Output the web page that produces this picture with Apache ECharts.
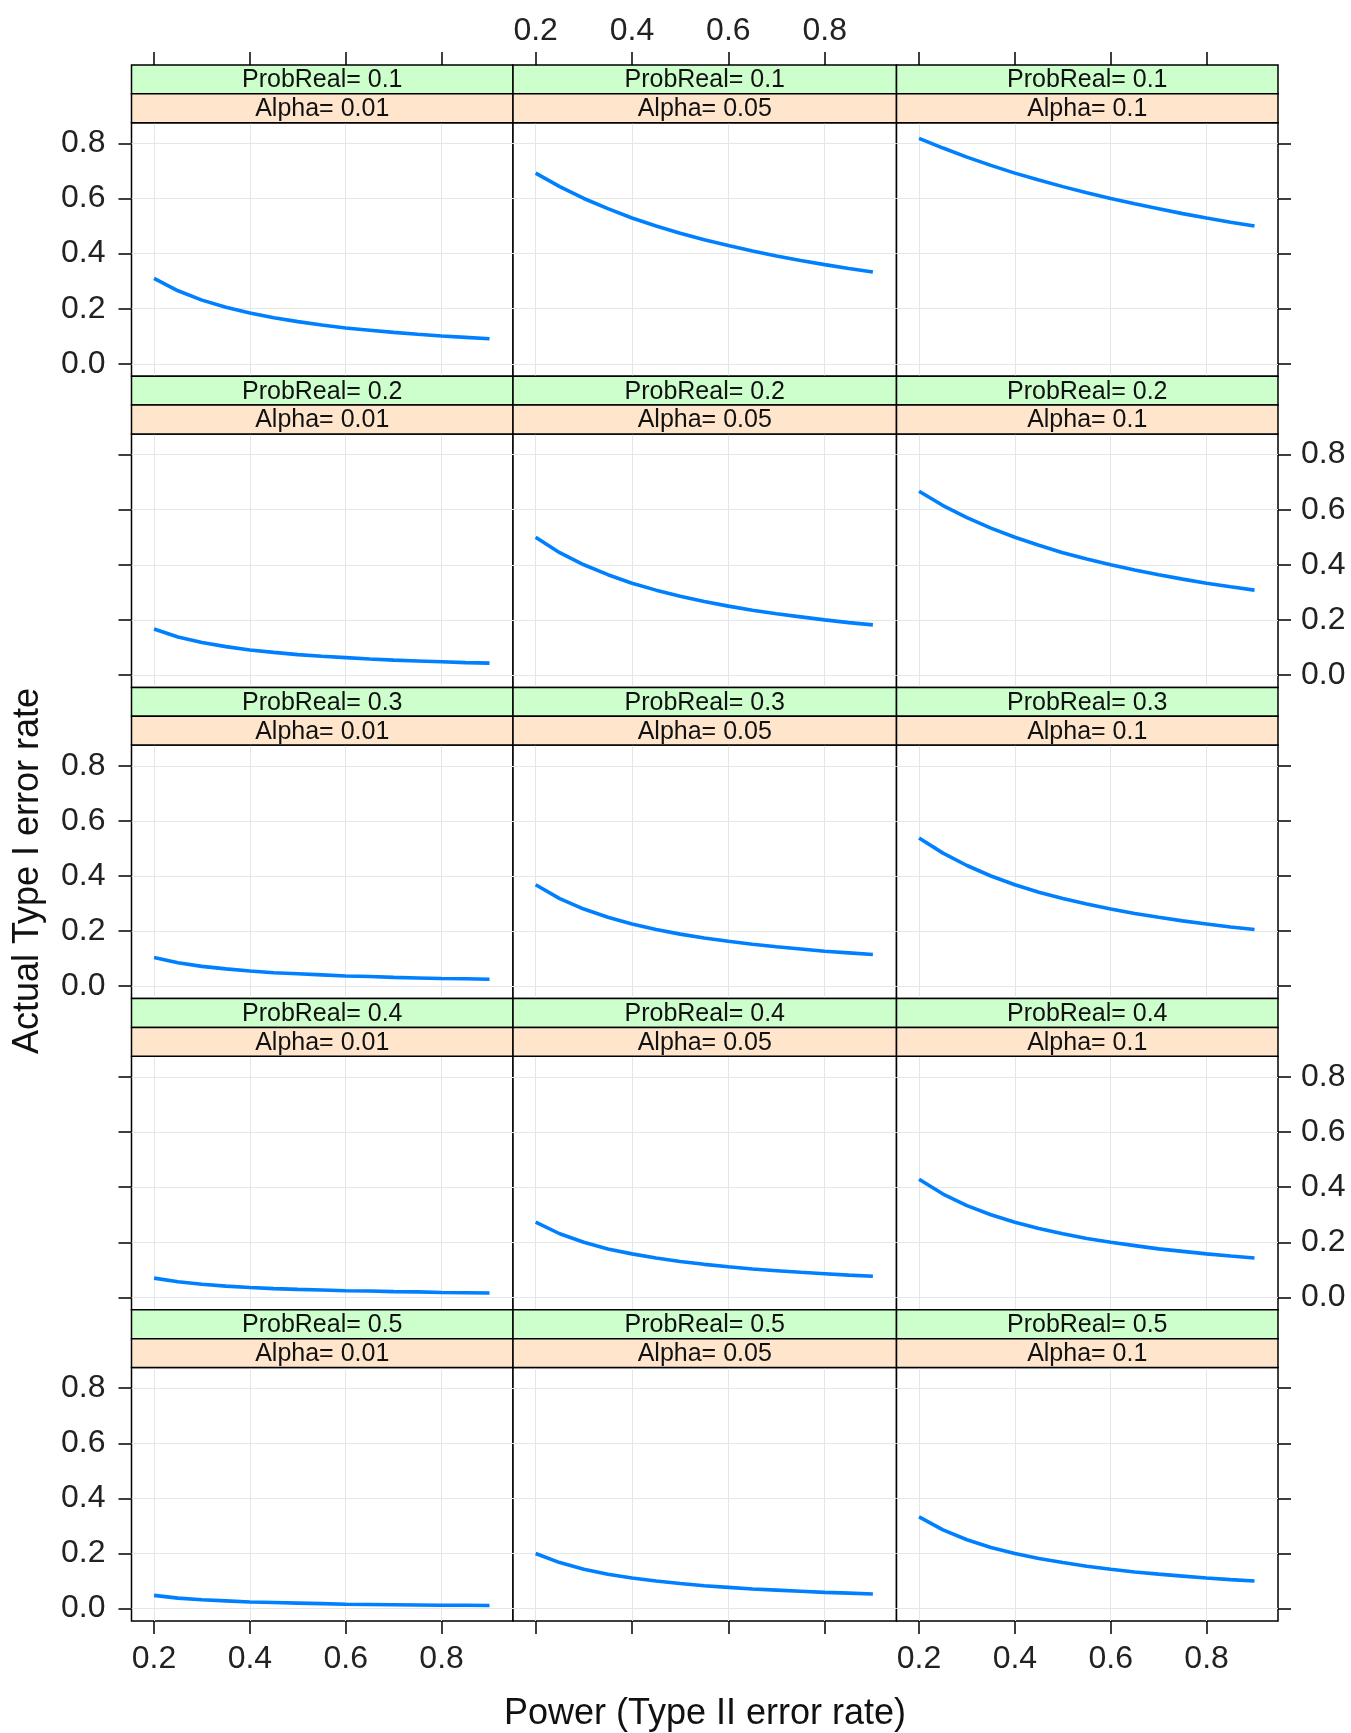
<!DOCTYPE html>
<html>
<head>
<meta charset="utf-8">
<script src="https://cdn.jsdelivr.net/npm/echarts@6/dist/echarts.min.js"></script>
<style>
  html, body { margin: 0; padding: 0; background: #fff; }
  #chart { width: 1351px; height: 1733px; }
</style>
</head>
<body>
<div id="chart"></div>
<script>
  // x values (power) shared by every panel
  var power = [0.2, 0.25, 0.3, 0.35, 0.4, 0.45, 0.5, 0.55, 0.6, 0.65, 0.7, 0.75, 0.8, 0.85, 0.9]
  var probReal = ['0.1', '0.2', '0.3', '0.4', '0.5']
  var alphas = ['0.01', '0.05', '0.1']

  // actual type I error rate, one array per panel (ProbReal x Alpha)
  var pr01_a001 = [0.310, 0.265, 0.231, 0.205, 0.184, 0.167, 0.153, 0.141, 0.130, 0.122, 0.114, 0.107, 0.101, 0.096, 0.091]
  var pr01_a005 = [0.692, 0.643, 0.600, 0.563, 0.529, 0.500, 0.474, 0.450, 0.429, 0.409, 0.391, 0.375, 0.360, 0.346, 0.333]
  var pr01_a01  = [0.818, 0.783, 0.750, 0.720, 0.692, 0.667, 0.643, 0.621, 0.600, 0.581, 0.563, 0.545, 0.529, 0.514, 0.500]
  var pr02_a001 = [0.167, 0.138, 0.118, 0.103, 0.091, 0.082, 0.074, 0.068, 0.063, 0.058, 0.054, 0.051, 0.048, 0.045, 0.043]
  var pr02_a005 = [0.500, 0.444, 0.400, 0.364, 0.333, 0.308, 0.286, 0.267, 0.250, 0.235, 0.222, 0.211, 0.200, 0.190, 0.182]
  var pr02_a01  = [0.667, 0.615, 0.571, 0.533, 0.500, 0.471, 0.444, 0.421, 0.400, 0.381, 0.364, 0.348, 0.333, 0.320, 0.308]
  var pr03_a001 = [0.104, 0.085, 0.072, 0.063, 0.055, 0.049, 0.045, 0.041, 0.037, 0.035, 0.032, 0.030, 0.028, 0.027, 0.025]
  var pr03_a005 = [0.368, 0.318, 0.280, 0.250, 0.226, 0.206, 0.189, 0.175, 0.163, 0.152, 0.143, 0.135, 0.127, 0.121, 0.115]
  var pr03_a01  = [0.538, 0.483, 0.438, 0.400, 0.368, 0.341, 0.318, 0.298, 0.280, 0.264, 0.250, 0.237, 0.226, 0.215, 0.206]
  var pr04_a001 = [0.070, 0.057, 0.048, 0.041, 0.036, 0.032, 0.029, 0.027, 0.024, 0.023, 0.021, 0.020, 0.018, 0.017, 0.016]
  var pr04_a005 = [0.273, 0.231, 0.200, 0.176, 0.158, 0.143, 0.130, 0.120, 0.111, 0.103, 0.097, 0.091, 0.086, 0.081, 0.077]
  var pr04_a01  = [0.429, 0.375, 0.333, 0.300, 0.273, 0.250, 0.231, 0.214, 0.200, 0.188, 0.176, 0.167, 0.158, 0.150, 0.143]
  var pr05_a001 = [0.048, 0.038, 0.032, 0.028, 0.024, 0.022, 0.020, 0.018, 0.016, 0.015, 0.014, 0.013, 0.012, 0.012, 0.011]
  var pr05_a005 = [0.200, 0.167, 0.143, 0.125, 0.111, 0.100, 0.091, 0.083, 0.077, 0.071, 0.067, 0.063, 0.059, 0.056, 0.053]
  var pr05_a01  = [0.333, 0.286, 0.250, 0.222, 0.200, 0.182, 0.167, 0.154, 0.143, 0.133, 0.125, 0.118, 0.111, 0.105, 0.100]

  var panels = [
    [pr01_a001, pr01_a005, pr01_a01],
    [pr02_a001, pr02_a005, pr02_a01],
    [pr03_a001, pr03_a005, pr03_a01],
    [pr04_a001, pr04_a005, pr04_a01],
    [pr05_a001, pr05_a005, pr05_a01]
  ]

  var xTicks = [0.2, 0.4, 0.6, 0.8]
  var yTicks = [0, 0.2, 0.4, 0.6, 0.8]

  // layout
  var colX = [131.5, 513, 896.5, 1278]
  var rowTop0 = 65
  var rowStep = 311.2
  var stripH = 28.85
  var plotH = rowStep - 2 * stripH
  var xMin = 0.153, xMax = 0.949
  var yMin = -0.045, yMax = 0.875
  var font = 'Liberation Sans, Arial, sans-serif'
  var lineColor = '#0080ff'

  function fmt (v) { return v.toFixed(1) }

  function axisTickOpt (show, vals) {
    return { show: show, length: 13, customValues: vals.slice(), lineStyle: { color: '#000', width: 1.5 } }
  }
  function axisLabelOpt (show, vals, margin) {
    return { show: show, margin: margin, customValues: vals.slice(), showMinLabel: true, showMaxLabel: true,
      fontSize: 32, color: '#222', fontFamily: font, formatter: fmt }
  }

  function buildOption () {
    var grids = [], xAxes = [], yAxes = [], series = [], graphics = []
    var extraX = [], extraY = []
    for (var r = 0; r < 5; r++) {
      for (var c = 0; c < 3; c++) {
        var i = r * 3 + c
        var rowY = rowTop0 + r * rowStep
        var w = colX[c + 1] - colX[c]
        grids.push({
          left: colX[c], top: rowY + 2 * stripH, width: w, height: plotH,
          show: true, borderColor: '#000', borderWidth: 1.5, backgroundColor: '#fff'
        })
        xAxes.push({
          type: 'value', gridIndex: i, min: xMin, max: xMax, position: 'bottom',
          axisLine: { show: false, onZero: false },
          axisTick: axisTickOpt(r === 4, xTicks),
          axisLabel: axisLabelOpt(r === 4 && c !== 1, xTicks, 22),
          splitLine: { show: true, lineStyle: { color: '#e6e6e6', width: 1 } }
        })
        yAxes.push({
          type: 'value', gridIndex: i, min: yMin, max: yMax, position: 'left',
          axisLine: { show: false, onZero: false },
          axisTick: axisTickOpt(c === 0, yTicks),
          axisLabel: axisLabelOpt(c === 0 && r % 2 === 0, yTicks, 26),
          splitLine: { show: true, lineStyle: { color: '#e6e6e6', width: 1 } }
        })
        // ticks above the strips on the top row, and on the right of the last column
        if (r === 0) {
          extraX.push({
            type: 'value', gridIndex: i, min: xMin, max: xMax, position: 'top', offset: 2 * stripH,
            axisLine: { show: false, onZero: false }, axisTick: axisTickOpt(true, xTicks), splitLine: { show: false },
            axisLabel: axisLabelOpt(c === 1, xTicks, 18)
          })
        }
        if (c === 2) {
          extraY.push({
            type: 'value', gridIndex: i, min: yMin, max: yMax, position: 'right',
            axisLine: { show: false, onZero: false }, axisTick: axisTickOpt(true, yTicks), splitLine: { show: false },
            axisLabel: axisLabelOpt(r % 2 === 1, yTicks, 23)
          })
        }
        var vals = panels[r][c]
        series.push({
          type: 'line', xAxisIndex: i, yAxisIndex: i, showSymbol: false, silent: true,
          lineStyle: { color: lineColor, width: 3.6 },
          data: power.map(function (x, k) { return [x, vals[k]] })
        })
        // strips: ProbReal (green, outer) and Alpha (orange, inner)
        graphics.push({
          type: 'rect', z: 10,
          shape: { x: colX[c], y: rowY, width: w, height: stripH },
          style: { fill: '#ccffcc', stroke: '#000', lineWidth: 1.5 }
        })
        graphics.push({
          type: 'rect', z: 10,
          shape: { x: colX[c], y: rowY + stripH, width: w, height: stripH },
          style: { fill: '#ffe5cc', stroke: '#000', lineWidth: 1.5 }
        })
        graphics.push({
          type: 'text', z: 11, x: colX[c] + w / 2, y: rowY + stripH / 2 + 1,
          style: { text: 'ProbReal= ' + probReal[r], font: '25px ' + font, fill: '#111', align: 'center', verticalAlign: 'middle' }
        })
        graphics.push({
          type: 'text', z: 11, x: colX[c] + w / 2, y: rowY + stripH * 1.5 + 1,
          style: { text: 'Alpha= ' + alphas[c], font: '25px ' + font, fill: '#111', align: 'center', verticalAlign: 'middle' }
        })
      }
    }
    graphics.push({
      type: 'text', z: 11, x: 705, y: 1714,
      style: { text: 'Power (Type II error rate)', font: '36px ' + font, fill: '#111', align: 'center', verticalAlign: 'middle' }
    })
    graphics.push({
      type: 'text', z: 11, x: 28, y: 871, rotation: Math.PI / 2,
      style: { text: 'Actual Type I error rate', font: '36px ' + font, fill: '#111', align: 'center', verticalAlign: 'middle' }
    })
    return {
      backgroundColor: '#fff',
      animation: false,
      grid: grids,
      xAxis: xAxes.concat(extraX),
      yAxis: yAxes.concat(extraY),
      series: series,
      graphic: { elements: graphics }
    }
  }

  var myChart = echarts.init(document.getElementById('chart'))
  myChart.setOption(buildOption())
</script>
</body>
</html>
